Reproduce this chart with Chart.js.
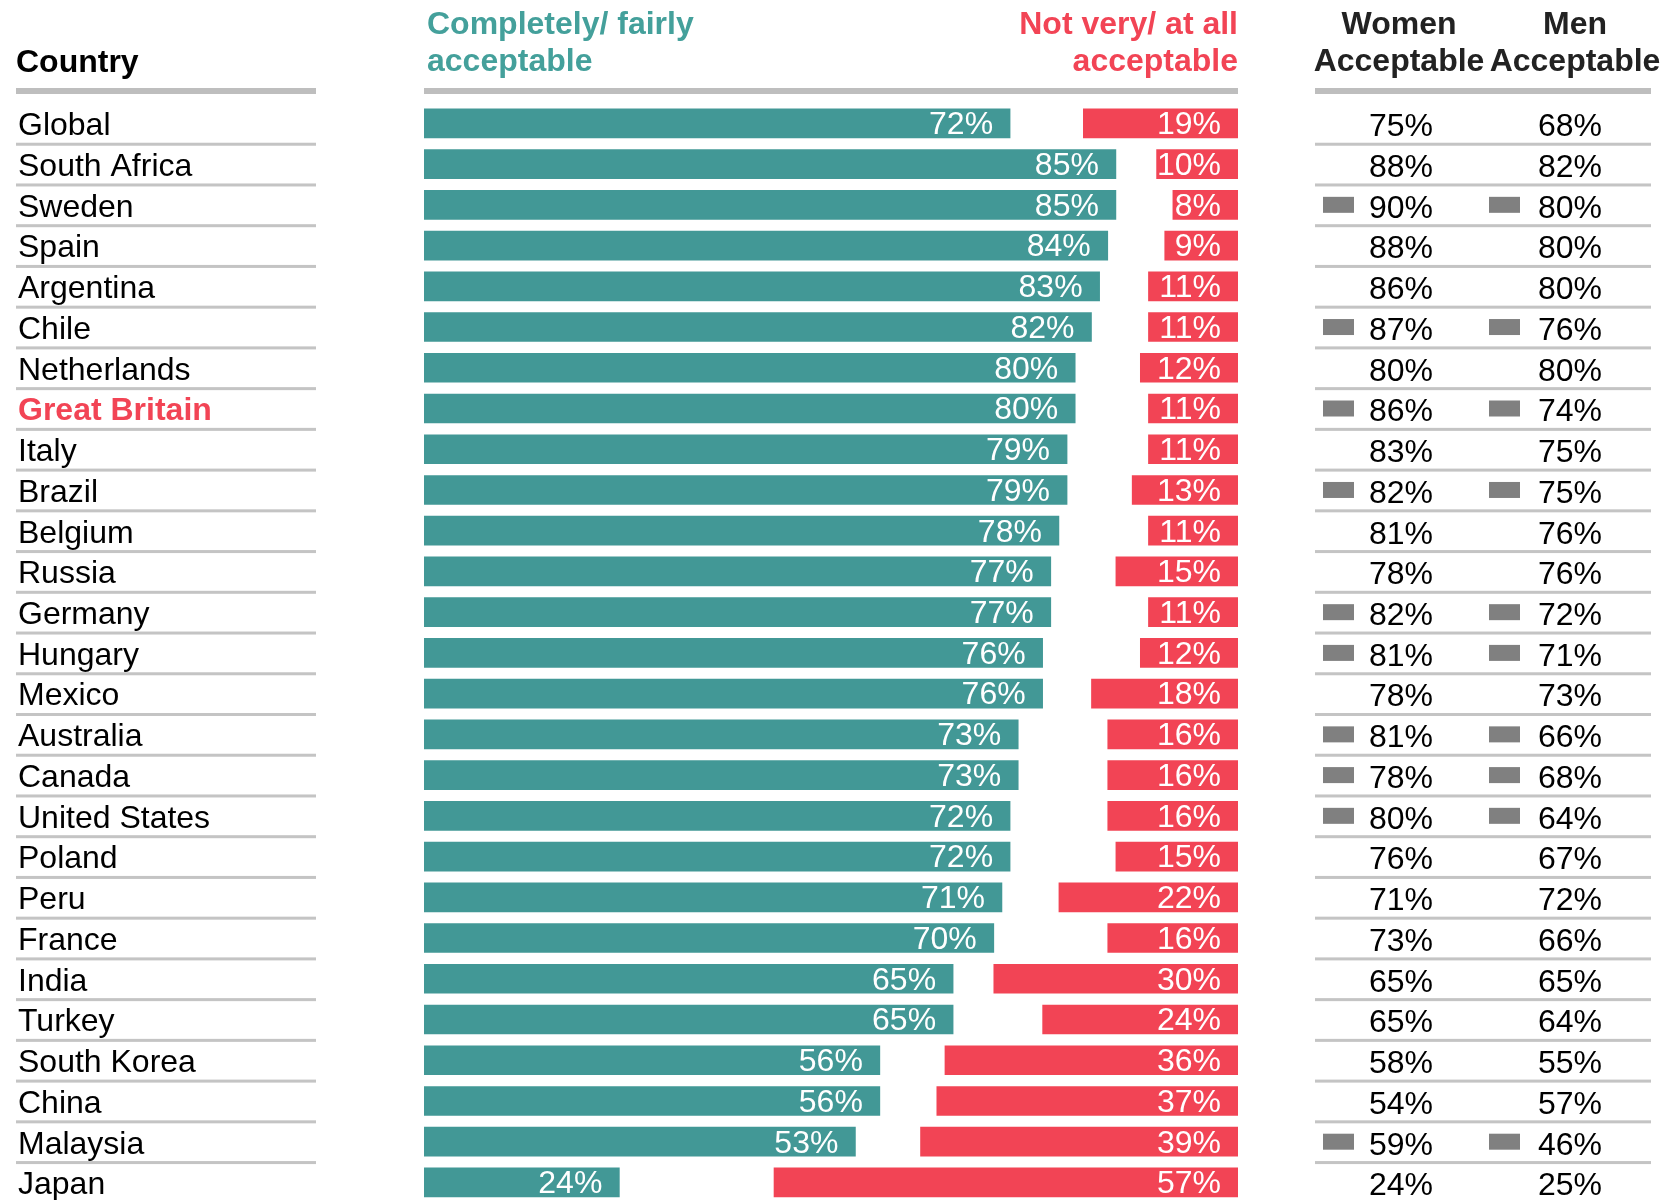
<!DOCTYPE html>
<html>
<head>
<meta charset="utf-8">
<script src="https://cdn.jsdelivr.net/npm/chart.js@4/dist/chart.umd.min.js"></script>
<style>
  html, body { margin: 0; padding: 0; background: #fff; overflow: hidden; }
</style>
</head>
<body>
<canvas id="chart" width="1665" height="1225"></canvas>
<script>
// data
const countries = ["Global", "South Africa", "Sweden", "Spain", "Argentina", "Chile", "Netherlands",
  "Great Britain", "Italy", "Brazil", "Belgium", "Russia", "Germany", "Hungary", "Mexico", "Australia",
  "Canada", "United States", "Poland", "Peru", "France", "India", "Turkey", "South Korea", "China",
  "Malaysia", "Japan"];
const acceptable = [72, 85, 85, 84, 83, 82, 80, 80, 79, 79, 78, 77, 77, 76, 76, 73, 73, 72, 72, 71, 70, 65, 65, 56, 56, 53, 24];
const notAcceptable = [19, 10, 8, 9, 11, 11, 12, 11, 11, 13, 11, 15, 11, 12, 18, 16, 16, 16, 15, 22, 16, 30, 24, 36, 37, 39, 57];
const womenAcceptable = [75, 88, 90, 88, 86, 87, 80, 86, 83, 82, 81, 78, 82, 81, 78, 81, 78, 80, 76, 71, 73, 65, 65, 58, 54, 59, 24];
const menAcceptable = [68, 82, 80, 80, 80, 76, 80, 74, 75, 75, 76, 76, 72, 71, 73, 66, 68, 64, 67, 72, 66, 65, 64, 55, 57, 46, 25];
// rows that carry the grey marker in the women / men columns
const marked = ["Sweden", "Chile", "Great Britain", "Brazil", "Germany", "Hungary", "Australia",
  "Canada", "United States", "Malaysia"];
const highlight = "Great Britain";

const TEAL = "#429896";
const RED = "#F24455";
const FONT = "'Liberation Sans', Arial, sans-serif";

// headers, thick header rules, row separators and the women/men columns
const tablePlugin = {
  id: "table",
  afterDraw(chart) {
    const ctx = chart.ctx;
    const y = chart.scales.y;
    const area = chart.chartArea;
    const n = countries.length;
    const step = (y.bottom - y.top) / n;

    ctx.save();
    // header rules
    ctx.fillStyle = "#BEBEBE";
    const ruleY = area.top - 15;
    ctx.fillRect(16, ruleY, 300, 6);
    ctx.fillRect(area.left, ruleY, area.right - area.left, 6);
    ctx.fillRect(1315, ruleY, 336, 6);

    // header text
    ctx.textBaseline = "middle";
    ctx.font = "bold 32px " + FONT;
    ctx.fillStyle = "#000";
    ctx.textAlign = "left";
    ctx.fillText("Country", 16, area.top - 40);

    ctx.fillStyle = "#44A09B";
    ctx.fillText("Completely/ fairly", area.left + 3, area.top - 78);
    ctx.fillText("acceptable", area.left + 3, area.top - 41);

    ctx.fillStyle = RED;
    ctx.textAlign = "right";
    ctx.fillText("Not very/ at all", area.right, area.top - 78);
    ctx.fillText("acceptable", area.right, area.top - 41);

    ctx.fillStyle = "#222";
    ctx.textAlign = "center";
    ctx.fillText("Women", 1399, area.top - 78);
    ctx.fillText("Acceptable", 1399, area.top - 41);
    ctx.fillText("Men", 1575, area.top - 78);
    ctx.fillText("Acceptable", 1575, area.top - 41);

    // rows
    ctx.font = "32px " + FONT;
    for (let i = 0; i < n; i++) {
      const cy = y.getPixelForValue(i);
      const sep = cy + step / 2;
      ctx.fillStyle = "#C4C4C4";
      ctx.fillRect(16, sep - 1, 300, 3);
      ctx.fillRect(1315, sep - 1, 336, 3);

      if (marked.includes(countries[i])) {
        ctx.fillStyle = "#808080";
        ctx.fillRect(1323, cy - 8, 31, 16);
        ctx.fillRect(1489, cy - 8, 31, 16);
      }
      ctx.fillStyle = "#000";
      ctx.textAlign = "center";
      ctx.fillText(womenAcceptable[i] + "%", 1401, cy + 4);
      ctx.fillText(menAcceptable[i] + "%", 1570, cy + 4);
    }
    ctx.restore();
  }
};

// white value labels at the inner end of each bar
const barLabels = {
  id: "barLabels",
  afterDatasetsDraw(chart) {
    const ctx = chart.ctx;
    ctx.save();
    ctx.font = "32px " + FONT;
    ctx.fillStyle = "#fff";
    ctx.textAlign = "right";
    ctx.textBaseline = "middle";
    const sets = [acceptable, notAcceptable];
    chart.data.datasets.forEach((ds, d) => {
      chart.getDatasetMeta(d).data.forEach((bar, i) => {
        const right = Math.max(bar.x, bar.base);
        ctx.fillText(sets[d][i] + "%", right - 17, bar.y + 2);
      });
    });
    ctx.restore();
  }
};

new Chart(document.getElementById("chart"), {
  type: "bar",
  data: {
    labels: countries,
    datasets: [
      {
        label: "Completely/ fairly acceptable",
        data: acceptable.map(v => [0, v]),
        backgroundColor: TEAL,
        barThickness: 29,
        grouped: false
      },
      {
        label: "Not very/ at all acceptable",
        data: notAcceptable.map(v => [100 - v, 100]),
        backgroundColor: RED,
        barThickness: 29,
        grouped: false
      }
    ]
  },
  options: {
    indexAxis: "y",
    responsive: false,
    animation: false,
    events: [],
    layout: { padding: { top: 103, bottom: 20, left: 18, right: 427 } },
    plugins: {
      legend: { display: false },
      tooltip: { enabled: false }
    },
    scales: {
      x: { min: 0, max: 100, display: false },
      y: {
        grid: { display: false },
        border: { display: false },
        afterFit(scale) { scale.width = 406; },
        ticks: {
          autoSkip: false,
          crossAlign: "far",
          labelOffset: 3,
          color: ctx => countries[ctx.index] === highlight ? RED : "#000",
          font: ctx => ({
            family: FONT,
            size: 32,
            weight: countries[ctx.index] === highlight ? "bold" : "normal"
          })
        }
      }
    }
  },
  plugins: [tablePlugin, barLabels]
});
</script>
</body>
</html>
